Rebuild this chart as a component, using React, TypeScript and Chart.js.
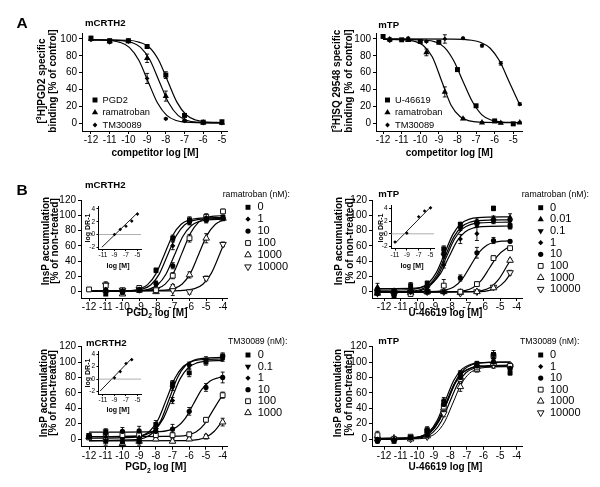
import React, { useEffect, useRef } from 'react';
import { Chart, registerables } from 'chart.js';
import { drawPoint } from 'chart.js/helpers';

Chart.register(...registerables);

const FONT = '"Liberation Sans", Arial, Helvetica, sans-serif';

// ---------------- Panel A : radioligand binding ----------------
const bindTicksX = [-12, -11, -10, -9, -8, -7, -6, -5];
const bindTicksY = [0, 20, 40, 60, 80, 100];

// mCRTH2 binding
const crthX = [-12, -11, -10, -9, -8, -7, -6, -5];
const crthPGD2 = [101, 98, 98, 91, 57, 9, 1, 1.5];
const crthPGD2Err = [2, 1.5, 1.5, 2, 4, 1.5, 1, 1.5];
const crthRama = [100, 97, 97, 77, 32, 3, 0.5, 0];
const crthRamaErr = [1.5, 1, 1, 5, 6, 1, 1, 1];
const crthTM = [99, 96, 97, 53, 5, 2.5, 0, 0];
const crthTMErr = [1, 1, 1, 6, 1, 1, 1, 1];
const crthPGD2Fit = [[-12, 99], [-10, 98.5], [-9.4, 96], [-8.9, 90.5], [-8.4, 75.5], [-7.9, 50], [-7.4, 24.5], [-6.9, 9.5], [-6.4, 3.5], [-5.9, 1.5], [-5, 0.6]];
const crthRamaFit = [[-12, 99], [-10.35, 98], [-9.85, 96], [-9.35, 90], [-8.85, 75], [-8.35, 49.5], [-7.85, 24], [-7.35, 9], [-6.85, 3], [-6.35, 1], [-5, 0]];
const crthTMFit = [[-12, 99], [-10.95, 98], [-10.45, 96], [-9.95, 90], [-9.45, 75], [-8.95, 49.5], [-8.45, 24], [-7.95, 9], [-7.45, 3], [-6.95, 1], [-5, 0]];

// mTP binding
const tpUX = [-12, -11, -10, -9, -8, -7, -6, -5];
const tpU = [103, 99, 97, 96, 63.5, 20.5, 2.5, -1];
const tpUErr = [1.5, 1, 1, 1.5, 2, 1.5, 1, 1];
const tpAntX = [-11.64, -10.65, -9.67, -8.68, -7.7, -6.68, -5.67, -4.65];
const tpRama = [99.5, 98.5, 84, 37, 5, 0.5, 0, 0.5];
const tpRamaErr = [2, 1, 4, 6, 1, 1, 1, 1];
const tpTM = [98, 101, 97, 100, 101, 92, 71, 22.5];
const tpTMErr = [1, 1, 1, 5, 1, 1.5, 2, 1.5];
const tpUFit = [[-12, 99.5], [-9.7, 98.5], [-9.2, 96.5], [-8.7, 90], [-8.2, 74], [-7.7, 49.5], [-7.2, 25.5], [-6.7, 10], [-6.2, 3.5], [-5.7, 1.5], [-4.7, 0.5]];
const tpRamaFit = [[-12, 99.5], [-10.85, 99], [-10.35, 97.5], [-9.85, 92.5], [-9.35, 78.5], [-8.85, 50], [-8.35, 21.5], [-7.85, 7.5], [-7.35, 2.5], [-6.85, 1], [-4.65, 0.3]];
const tpTMFit = [[-12, 100], [-8.24, 99.8], [-7.24, 98.5], [-6.74, 95.8], [-6.24, 89], [-5.74, 74], [-5.24, 50], [-4.74, 26], [-4.65, 22.5]];

// ---------------- Panel B : InsP accumulation ----------------
const insTicksY = [0, 20, 40, 60, 80, 100, 120];
const insTicksX = [-12, -11, -10, -9, -8, -7, -6, -5, -4];
const schildTicksX = [-11, -9, -7, -5];
const schildTicksY = [-2, 0, 2, 4];

// B1: mCRTH2, PGD2 + ramatroban
const b1X = [-12, -11, -10, -9, -8, -7, -6, -5, -4];
const b1R0 = [null, -3, 0, 2, 28, 70, 94, 95, 97];
const b1R0Err = [0, 2, 2, 2, 3, 4, 4, 4, 3];
const b1R1 = [null, 3, 2, 3, 9, 60, 92, 97, 97];
const b1R1Err = [0, 2, 2, 2, 2, 5, 4, 4, 3];
const b1R10 = [null, 2, -1, 3, 11, 34, 91.5, 94, 96];
const b1R10Err = [0, 2, 2, 2, 3, 4, 4, 4, 3];
const b1R100 = [3, 8, 2, 5, 2, 21, 70, 98, 105];
const b1R100Err = [1, 3, 2, 2, 2, 4, 5, 4, 3];
const b1R1000 = [null, 2, -3, 2, 0, 6.5, 22, 70, 96];
const b1R1000Err = [0, 2, 2, 2, 2, 3, 4, 6, 3];
const b1R10000 = [null, 9, 2, 3, 2, 2, 0, 17.5, 62];
const b1R10000Err = [0, 4, 2, 2, 2, 7, 3, 3, 3];
const b1Fit0 = [[-12, 0.5], [-9.5, 1.5], [-9, 3.5], [-8.5, 9.3], [-8, 23.7], [-7.5, 48.8], [-7, 73.8], [-6.5, 88.3], [-6, 94], [-5.5, 96], [-4, 97]];
const b1Fit1 = [[-12, 0.5], [-9.3, 1.4], [-8.8, 3.5], [-8.3, 9.2], [-7.8, 23.4], [-7.3, 48.3], [-6.8, 73], [-6.3, 87.3], [-5.8, 93], [-5.3, 95], [-4, 96]];
const b1Fit10 = [[-12, 0.5], [-8.9, 1.4], [-8.4, 3.4], [-7.9, 9.1], [-7.4, 23.2], [-6.9, 47.8], [-6.4, 72.3], [-5.9, 86.4], [-5.4, 92], [-4.9, 94], [-4, 95]];
const b1Fit100 = [[-12, 1], [-8.45, 2], [-7.95, 4.1], [-7.45, 10], [-6.95, 24.8], [-6.45, 50.5], [-5.95, 76.2], [-5.45, 91], [-4.95, 97], [-4.45, 99], [-4, 99.5]];
const b1Fit1000 = [[-12, 1], [-7.45, 2], [-6.95, 4], [-6.45, 9.7], [-5.95, 24], [-5.45, 49], [-4.95, 74], [-4.45, 88.3], [-4, 93.7]];
const b1Fit10000 = [[-12, 1], [-7, 1.2], [-6.2, 2], [-5.7, 4], [-5.2, 9.7], [-4.7, 24], [-4.2, 49], [-4, 59.8]];
const b1SchildX = [-9, -8, -7, -6, -5];
const b1SchildY = [0, 0.8, 1.3, 2.1, 3.2];
const b1SchildFit = [[-11.2, -2], [-5, 3.4]];

// B2: mTP, U-46619 + ramatroban
const b2X = [-12.4, -11.4, -10.4, -9.4, -8.4, -7.4, -6.4, -5.4, -4.4];
const b2R0 = [2, -6, 8, 11, 56, 88, 90, 109, 86];
const b2R0Err = [3, 2, 4, 3, 4, 3, 3, 3, 3];
const b2R001 = [6, 0, 2, 8, 52, 86, 92, 96, 97];
const b2R001Err = [5, 2, 2, 2, 3, 3, 3, 3, 5];
const b2R01 = [-3, 1, 0, 5, 47, 83, 88, 93, 92];
const b2R01Err = [2, 2, 2, 2, 3, 3, 3, 3, 3];
const b2R1 = [0, 2, 4, 3, 35, 69, 76, 92, 85];
const b2R1Err = [2, 2, 2, 2, 4, 6, 9, 3, 3];
const b2R10 = [-2, -1, 0, 0, 0, 18, 51, 67, 66];
const b2R10Err = [2, 2, 2, 2, 2, 4, 7, 4, 2];
const b2R100 = [0, -2, -3, 0, 8, 0, 10, 44, 57];
const b2R100Err = [2, 2, 2, 2, 8, 2, 3, 3, 2];
const b2R1000 = [-2, 0, -1, 0, 0, -1, 0, 5, 41];
const b2R1000Err = [2, 2, 2, 2, 2, 2, 2, 2, 2];
const b2R10000 = [0, -1, 0, 0, 0, -2, 0, 6, 25];
const b2R10000Err = [2, 2, 2, 2, 2, 2, 2, 2, 3];
const b2Fit0 = [[-12.4, 2], [-10.35, 2.95], [-9.85, 5], [-9.35, 10.7], [-8.85, 25], [-8.35, 50], [-7.85, 75], [-7.35, 89.3], [-6.85, 95], [-6.35, 97], [-4.4, 98]];
const b2Fit001 = [[-12.4, 0], [-10.3, 0.93], [-9.8, 2.9], [-9.3, 8.6], [-8.8, 22.6], [-8.3, 47], [-7.8, 71.4], [-7.3, 85.4], [-6.8, 91.1], [-6.3, 93.1], [-4.4, 94]];
const b2Fit01 = [[-12.4, -1], [-10.25, -0.1], [-9.75, 1.85], [-9.25, 7.4], [-8.75, 21.1], [-8.25, 45], [-7.75, 68.9], [-7.25, 82.6], [-6.75, 88.1], [-6.25, 90.1], [-4.4, 91]];
const b2Fit1 = [[-12.4, 4], [-10.1, 4.8], [-9.6, 6.5], [-9.1, 11.5], [-8.6, 23.7], [-8.1, 45], [-7.6, 66.3], [-7.1, 78.5], [-6.6, 83.5], [-6.1, 85.2], [-4.4, 86]];
const b2Fit10 = [[-12.4, 0], [-8.8, 0.66], [-8.3, 2.1], [-7.8, 6.1], [-7.3, 16.1], [-6.8, 33.5], [-6.3, 50.9], [-5.8, 60.9], [-5.3, 64.9], [-4.8, 66.3], [-4.4, 66.8]];
const b2Fit100 = [[-12.4, -0.5], [-7.65, 0.1], [-7.15, 1.4], [-6.65, 5.2], [-6.15, 14.5], [-5.65, 30.75], [-5.15, 47], [-4.65, 56.3], [-4.4, 58.7]];
const b2Fit1000 = [[-12.4, -0.5], [-6.6, 0.17], [-6.1, 1.6], [-5.6, 5.6], [-5.1, 15.7], [-4.6, 33.25], [-4.4, 40.9]];
const b2Fit10000 = [[-12.4, -0.5], [-6.2, 0.1], [-5.7, 1.4], [-5.2, 5.0], [-4.7, 14.0], [-4.4, 22.9]];
const b2SchildX = [-11, -9, -7, -6, -5];
const b2SchildY = [-1.3, 0.1, 2.7, 3.6, 4.1];
const b2SchildFit = [[-11, -1.5], [-5, 4.2]];

// B3: mCRTH2, PGD2 + TM30089
const b3X = [-12, -11, -10, -9, -8, -7, -6, -5, -4];
const b3T0 = [3, -3, -4, -3, 19, 72, 86, 100, 108];
const b3T0Err = [2, 5, 6, 5, 5, 4, 5, 4, 4];
const b3T01 = [5, 10, 0, 0, 12, 67, 95, 103, 106];
const b3T01Err = [2, 3, 3, 3, 3, 4, 4, 4, 3];
const b3T1 = [2, 3, -2, 2, 10, 50, 97, 101, 104];
const b3T1Err = [1, 2, 2, 2, 3, 4, 3, 3, 3];
const b3T10 = [4, 8, 10, 10.5, 10, 13, 36, 67, 80];
const b3T10Err = [2, 5, 5, 6, 6, 6, 5, 5, 7];
const b3T100 = [2, 5, 5, 5, 5, 5, 6, 25, 57];
const b3T100Err = [2, 3, 4, 4, 4, 4, 3, 3, 4];
const b3T1000 = [3, 0, -6, -3, 0, -3, 0, 3, 22];
const b3T1000Err = [1, 2, 3, 3, 2, 2, 2, 3, 5];
const b3Fit0 = [[-12, 1], [-9.35, 2], [-8.85, 4.2], [-8.35, 10.4], [-7.85, 25.7], [-7.35, 52.5], [-6.85, 79.3], [-6.35, 94.6], [-5.85, 100.8], [-5.35, 103], [-4, 104]];
const b3Fit01 = [[-12, -2], [-9.2, -0.9], [-8.7, 1.35], [-8.2, 7.8], [-7.7, 23.9], [-7.2, 52], [-6.7, 80.1], [-6.2, 96.2], [-5.7, 102.6], [-5.2, 104.9], [-4, 106]];
const b3Fit1 = [[-12, 3], [-9.05, 4], [-8.55, 6.1], [-8.05, 12], [-7.55, 26.8], [-7.05, 52.5], [-6.55, 78.2], [-6.05, 93], [-5.55, 98.9], [-5.05, 101], [-4, 102]];
const b3Fit10 = [[-12, 9], [-7.75, 9.7], [-7.25, 11.3], [-6.75, 15.6], [-6.25, 26.5], [-5.75, 45.5], [-5.25, 64.5], [-4.75, 75.4], [-4.25, 79.7], [-4, 80.8]];
const b3Fit100 = [[-12, 3], [-6.6, 3.7], [-6.1, 5.1], [-5.6, 9.1], [-5.1, 19.1], [-4.6, 36.5], [-4.1, 53.9], [-4, 56.5]];
const b3Fit1000 = [[-12, -2.5], [-6, -2], [-5.5, -0.9], [-5, 2.3], [-4.5, 10.1], [-4, 23.75]];
const b3SchildX = [-9, -8, -7, -6];
const b3SchildY = [0.2, 1.2, 2.5, 3.1];
const b3SchildFit = [[-11.5, -1.9], [-6, 3.3]];

// B4: mTP, U-46619 + TM30089
const b4X = [-12.4, -11.4, -10.4, -9.4, -8.4, -7.4, -6.4, -5.4, -4.4];
const b4T0 = [-2, -3, 2, 12, 48, 85, 98, 110, 86];
const b4T0Err = [3, 2, 2, 4, 4, 4, 3, 5, 3];
const b4T1 = [0, 0, 1, 8, 50, 82, 96, 105, 90];
const b4T1Err = [2, 2, 2, 3, 4, 4, 3, 4, 3];
const b4T10 = [-3, -1, 2, 5, 45, 80, 95, 100, 92];
const b4T10Err = [2, 2, 2, 2, 4, 4, 3, 4, 3];
const b4T100 = [5, 0, 3, 10, 42, 78, 93, 108, 95];
const b4T100Err = [5, 2, 2, 3, 4, 4, 3, 4, 3];
const b4T1000 = [0, 1, 0, 4, 40, 68, 90, 98, 96];
const b4T1000Err = [2, 2, 2, 2, 4, 6, 3, 4, 3];
const b4T10000 = [0, -1, 0, 3, 33, 76, 92, 96, 94];
const b4T10000Err = [2, 2, 2, 2, 4, 4, 3, 4, 3];
const b4Fit0 = [[-12.4, 0], [-10.3, 1], [-9.8, 3.1], [-9.3, 9.1], [-8.8, 24], [-8.3, 50], [-7.8, 76], [-7.3, 90.9], [-6.8, 96.9], [-6.3, 99], [-4.4, 100]];
const b4Fit1 = [[-12.4, 0.5], [-10.25, 1.4], [-9.75, 3.4], [-9.25, 9.1], [-8.75, 23.2], [-8.25, 47.75], [-7.75, 72.3], [-7.25, 86.4], [-6.75, 92.1], [-6.25, 94.1], [-4.4, 95]];
const b4Fit10 = [[-12.4, 0], [-10.2, 0.95], [-9.7, 3], [-9.2, 8.7], [-8.7, 23], [-8.2, 48], [-7.7, 73], [-7.2, 87.3], [-6.7, 93], [-6.2, 95], [-4.4, 96]];
const b4Fit100 = [[-12.4, 1], [-10.15, 2], [-9.65, 4.1], [-9.15, 10], [-8.65, 24.8], [-8.15, 50.5], [-7.65, 76.2], [-7.15, 91], [-6.65, 96.9], [-6.15, 99], [-4.4, 100]];
const b4Fit1000 = [[-12.4, 0], [-10.05, 0.94], [-9.55, 2.9], [-9.05, 8.6], [-8.55, 22.8], [-8.05, 47.5], [-7.55, 72.2], [-7.05, 86.4], [-6.55, 92], [-6.05, 94], [-4.4, 95]];
const b4Fit10000 = [[-12.4, -0.5], [-9.85, 0.4], [-9.35, 2.4], [-8.85, 8.1], [-8.35, 22.2], [-7.85, 46.75], [-7.35, 71.3], [-6.85, 85.4], [-6.35, 91.1], [-5.85, 93.1], [-4.4, 94]];

// legend labels
const ramaCrthLabels = ['0', '1', '10', '100', '1000', '10000'];
const ramaTpLabels = ['0', '0.01', '0.1', '1', '10', '100', '1000', '10000'];
const tmCrthLabels = ['0', '0.1', '1', '10', '100', '1000'];
const tmTpLabels = ['0', '1', '10', '100', '1000', '10000'];

// ---------------- helpers ----------------
type Mk = { style: string; r: number; fill: boolean; rot?: number };
const MK: Record<string, Mk> = {
  sq: { style: 'rect', r: 3.5, fill: true },
  tri: { style: 'triangle', r: 3.6, fill: true },
  dia: { style: 'rectRot', r: 2.6, fill: true },
  circ: { style: 'circle', r: 2.6, fill: true },
  inv: { style: 'triangle', r: 3.6, fill: true, rot: 180 },
  osq: { style: 'rect', r: 3.4, fill: false },
  otri: { style: 'triangle', r: 3.8, fill: false },
  oinv: { style: 'triangle', r: 3.8, fill: false, rot: 180 },
  dot: { style: 'rectRot', r: 1.8, fill: true },
};

function series(xs: number[], ys: (number | null)[], errs: number[] | null, mk: Mk) {
  const data: any[] = [];
  const err: number[] = [];
  xs.forEach((x, i) => {
    const y = ys[i];
    if (y !== null && y !== undefined) {
      data.push({ x, y });
      err.push(errs ? errs[i] : 0);
    }
  });
  return {
    type: 'scatter', data, err,
    pointStyle: mk.style, rotation: mk.rot || 0, pointRadius: mk.r, pointHoverRadius: mk.r,
    backgroundColor: mk.fill ? '#000' : '#fff', borderColor: '#111', borderWidth: mk.fill ? 0 : 1,
    showLine: false, order: 0,
  };
}

function curve(pairs: number[][], width = 1.2, color = '#000') {
  return {
    type: 'line', data: pairs.map(([x, y]) => ({ x, y })),
    borderColor: color, borderWidth: width, pointRadius: 0, pointHoverRadius: 0,
    showLine: true, fill: false, cubicInterpolationMode: 'monotone', order: 2,
  };
}

type Seg = { t: string; s?: 'sup' | 'sub' };
type Txt = { x: number; y: number; text: string | Seg[]; size: number; bold?: boolean; align?: 'left' | 'center' | 'right'; rot?: number };

function drawText(ctx: CanvasRenderingContext2D, t: Txt, ox: number, oy: number) {
  const segs: Seg[] = typeof t.text === 'string' ? [{ t: t.text }] : t.text;
  ctx.save();
  ctx.translate(t.x - ox, t.y - oy);
  if (t.rot) ctx.rotate((t.rot * Math.PI) / 180);
  const fontFor = (s: Seg) => `${t.bold ? 'bold ' : ''}${s.s ? t.size * 0.68 : t.size}px ${FONT}`;
  let total = 0;
  const widths = segs.map((s) => {
    ctx.font = fontFor(s);
    const w = ctx.measureText(s.t).width;
    total += w;
    return w;
  });
  let x = t.align === 'center' ? -total / 2 : t.align === 'right' ? -total : 0;
  ctx.textBaseline = 'middle';
  ctx.textAlign = 'left';
  ctx.fillStyle = '#000';
  segs.forEach((s, i) => {
    ctx.font = fontFor(s);
    const dy = s.s === 'sup' ? -t.size * 0.32 : s.s === 'sub' ? t.size * 0.3 : 0;
    ctx.fillText(s.t, x, dy);
    x += widths[i];
  });
  ctx.restore();
}

type Leg = { labels: string[]; mks: Mk[]; mx: number; tx: number; y0: number; dy: number; size: number };

type Spec = {
  box: number[]; area: number[]; xr: number[]; yr: number[];
  xTicks: number[]; yTicks: number[];
  tickFont: number; tickLen: number; xPad: number; yPad: number;
  datasets: any[]; texts: Txt[]; legend?: Leg; capW?: number;
};

function makeDecor(spec: Spec) {
  const ox = spec.box[0];
  const oy = spec.box[1];
  return {
    id: 'decor',
    beforeDatasetsDraw(chart: any) {
      const ctx = chart.ctx;
      const ys = chart.scales.y;
      const cap = spec.capW ?? 2;
      ctx.save();
      ctx.strokeStyle = '#000';
      ctx.lineWidth = 0.9;
      chart.data.datasets.forEach((ds: any, i: number) => {
        if (!ds.err) return;
        const meta = chart.getDatasetMeta(i);
        meta.data.forEach((el: any, j: number) => {
          const e = ds.err[j];
          if (!e) return;
          const raw = ds.data[j];
          const yt = ys.getPixelForValue(raw.y + e);
          const yb = ys.getPixelForValue(raw.y - e);
          ctx.beginPath();
          ctx.moveTo(el.x, yt); ctx.lineTo(el.x, yb);
          ctx.moveTo(el.x - cap, yt); ctx.lineTo(el.x + cap, yt);
          ctx.moveTo(el.x - cap, yb); ctx.lineTo(el.x + cap, yb);
          ctx.stroke();
        });
      });
      ctx.restore();
    },
    afterDraw(chart: any) {
      const ctx = chart.ctx;
      spec.texts.forEach((t) => drawText(ctx, t, ox, oy));
      const lg = spec.legend;
      if (lg) {
        lg.labels.forEach((lab, i) => {
          const y = lg.y0 + i * lg.dy - oy;
          const mk = lg.mks[i];
          ctx.save();
          ctx.fillStyle = mk.fill ? '#000' : '#fff';
          ctx.strokeStyle = '#111';
          ctx.lineWidth = 1;
          drawPoint(ctx, { pointStyle: mk.style, rotation: mk.rot || 0, radius: mk.r, borderWidth: mk.fill ? 0 : 1 } as any, lg.mx - ox, y);
          ctx.restore();
          drawText(ctx, { x: lg.tx, y: lg.y0 + i * lg.dy, text: lab, size: lg.size, align: 'left' }, ox, oy);
        });
      }
    },
  };
}

function axisOpts(min: number, max: number, ticks: number[], spec: Spec, pad: number) {
  return {
    type: 'linear', min, max,
    afterBuildTicks: (s: any) => { s.ticks = ticks.map((v) => ({ value: v })); },
    ticks: { font: { family: FONT, size: spec.tickFont }, color: '#000', padding: pad, autoSkip: false, maxRotation: 0, minRotation: 0, callback: (v: any) => String(v) },
    grid: { display: true, drawOnChartArea: false, drawTicks: true, tickLength: spec.tickLen, tickWidth: 1, tickColor: '#000', color: '#000' },
    border: { display: true, color: '#000', width: 1 },
  };
}

function Panel({ spec }: { spec: Spec }) {
  const ref = useRef<HTMLCanvasElement | null>(null);
  useEffect(() => {
    const [l, t, w, h] = spec.box;
    const [x0, y0, x1, y1] = spec.area;
    const chart = new Chart(ref.current as HTMLCanvasElement, {
      type: 'scatter',
      data: { datasets: spec.datasets },
      options: {
        responsive: false,
        animation: false,
        events: [],
        layout: { padding: { left: 0, top: y0 - t, right: l + w - x1, bottom: 0 } },
        plugins: { legend: { display: false }, tooltip: { enabled: false } },
        scales: {
          x: { ...axisOpts(spec.xr[0], spec.xr[1], spec.xTicks, spec, spec.xPad), afterFit: (s: any) => { s.height = t + h - y1; } },
          y: { ...axisOpts(spec.yr[0], spec.yr[1], spec.yTicks, spec, spec.yPad), afterFit: (s: any) => { s.width = x0 - l; } },
        },
      } as any,
      plugins: [makeDecor(spec)],
    } as any);
    return () => chart.destroy();
  }, [spec]);
  return (
    <canvas
      ref={ref}
      width={spec.box[2]}
      height={spec.box[3]}
      style={{ position: 'absolute', left: spec.box[0], top: spec.box[1], width: spec.box[2], height: spec.box[3] }}
    />
  );
}

// ---------------- panel specs ----------------
const ytA = (x: number, y: number, text: string | Seg[]): Txt => ({ x, y, text, size: 10, bold: true, align: 'center', rot: -90 });
const xt = (x: number, y: number, text: string | Seg[]): Txt => ({ x, y, text, size: 10, bold: true, align: 'center' });
const ttl = (x: number, y: number, text: string): Txt => ({ x, y, text, size: 9.6, bold: true, align: 'left' });

const mainCommon = { tickFont: 10, tickLen: 3, xPad: 0.5, yPad: 2 };

const specALeft: Spec = {
  ...mainCommon,
  box: [0, 0, 300, 170], area: [82, 33, 227, 131], xr: [-12.48, -4.73], yr: [-9.52, 107.1],
  xTicks: bindTicksX, yTicks: bindTicksY,
  datasets: [
    curve(crthPGD2Fit), curve(crthRamaFit), curve(crthTMFit),
    series(crthX, crthPGD2, crthPGD2Err, MK.sq),
    series(crthX, crthRama, crthRamaErr, MK.tri),
    series(crthX, crthTM, crthTMErr, { ...MK.dia, r: 2.4 }),
  ],
  texts: [
    { x: 16.5, y: 24, text: 'A', size: 15.5, bold: true, align: 'left' },
    ttl(85, 23.3, 'mCRTH2'),
    ytA(42, 81, [{ t: '[' }, { t: '3', s: 'sup' }, { t: 'H]PGD2 specific' }]),
    ytA(53.5, 81, 'binding [% of control]'),
    xt(155, 153, 'competitor log [M]'),
  ],
  legend: { labels: ['PGD2', 'ramatroban', 'TM30089'], mks: [MK.sq, MK.tri, { ...MK.dia, r: 2.4 }], mx: 95, tx: 102.5, y0: 100, dy: 12.5, size: 9.3 },
};

const specARight: Spec = {
  ...mainCommon,
  box: [300, 0, 300, 170], area: [376, 33, 522, 131], xr: [-12.38, -4.53], yr: [-9.52, 107.1],
  xTicks: bindTicksX, yTicks: bindTicksY,
  datasets: [
    curve(tpUFit), curve(tpRamaFit), curve(tpTMFit),
    series(tpUX, tpU, tpUErr, MK.sq),
    series(tpAntX, tpRama, tpRamaErr, MK.tri),
    series(tpAntX, tpTM, tpTMErr, { ...MK.dia, r: 2.4 }),
  ],
  texts: [
    ttl(378.3, 25, 'mTP'),
    ytA(337.3, 81, [{ t: '[' }, { t: '3', s: 'sup' }, { t: 'H]SQ 29548 specific' }]),
    ytA(349.3, 81, 'binding [% of control]'),
    xt(449.3, 153, 'competitor log [M]'),
  ],
  legend: { labels: ['U-46619', 'ramatroban', 'TM30089'], mks: [MK.sq, MK.tri, { ...MK.dia, r: 2.4 }], mx: 387.5, tx: 395, y0: 100, dy: 12.5, size: 9.3 },
};

const specB1: Spec = {
  ...mainCommon,
  box: [0, 170, 300, 160], area: [81, 200, 227, 298], xr: [-12.48, -3.76], yr: [-8.2, 120],
  xTicks: insTicksX, yTicks: insTicksY,
  datasets: [
    curve(b1Fit0), curve(b1Fit1), curve(b1Fit10), curve(b1Fit100), curve(b1Fit1000), curve(b1Fit10000),
    series(b1X, b1R0, b1R0Err, MK.sq),
    series(b1X, b1R1, b1R1Err, MK.dia),
    series(b1X, b1R10, b1R10Err, MK.circ),
    series(b1X, b1R100, b1R100Err, MK.osq),
    series(b1X, b1R1000, b1R1000Err, MK.otri),
    series(b1X, b1R10000, b1R10000Err, MK.oinv),
  ],
  texts: [
    { x: 16.5, y: 190.5, text: 'B', size: 15.5, bold: true, align: 'left' },
    ttl(85, 185.7, 'mCRTH2'),
    ytA(46.3, 241, 'InsP accumulation'),
    ytA(55, 241, '[% of non-treated]'),
    xt(157, 313, [{ t: 'PGD' }, { t: '2', s: 'sub' }, { t: ' log [M]' }]),
    { x: 222.7, y: 195, text: 'ramatroban (nM):', size: 8.7, align: 'left' },
  ],
  legend: { labels: ramaCrthLabels, mks: [MK.sq, MK.dia, MK.circ, MK.osq, MK.otri, MK.oinv], mx: 248, tx: 257.5, y0: 207.3, dy: 11.9, size: 11 },
};

const specB2: Spec = {
  ...mainCommon,
  box: [300, 170, 300, 160], area: [372, 200, 522, 298], xr: [-12.73, -3.68], yr: [-8.2, 120],
  xTicks: insTicksX, yTicks: insTicksY,
  datasets: [
    curve(b2Fit0), curve(b2Fit001), curve(b2Fit01), curve(b2Fit1), curve(b2Fit10), curve(b2Fit100), curve(b2Fit1000), curve(b2Fit10000),
    series(b2X, b2R0, b2R0Err, MK.sq),
    series(b2X, b2R001, b2R001Err, MK.tri),
    series(b2X, b2R01, b2R01Err, MK.inv),
    series(b2X, b2R1, b2R1Err, MK.dia),
    series(b2X, b2R10, b2R10Err, MK.circ),
    series(b2X, b2R100, b2R100Err, MK.osq),
    series(b2X, b2R1000, b2R1000Err, MK.otri),
    series(b2X, b2R10000, b2R10000Err, MK.oinv),
  ],
  texts: [
    ttl(378.3, 194, 'mTP'),
    ytA(339, 241, 'InsP accumulation'),
    ytA(350, 241, '[% of non-treated]'),
    xt(445.5, 313.3, 'U-46619 log [M]'),
    { x: 521.7, y: 195, text: 'ramatroban (nM):', size: 8.7, align: 'left' },
  ],
  legend: { labels: ramaTpLabels, mks: [MK.sq, MK.tri, MK.inv, MK.dia, MK.circ, MK.osq, MK.otri, MK.oinv], mx: 540.7, tx: 550, y0: 207.7, dy: 11.65, size: 11 },
};

const specB3: Spec = {
  ...mainCommon,
  box: [0, 330, 300, 157], area: [81, 346.7, 227, 446.7], xr: [-12.48, -3.74], yr: [-10, 120],
  xTicks: insTicksX, yTicks: insTicksY,
  datasets: [
    curve(b3Fit0), curve(b3Fit01), curve(b3Fit1), curve(b3Fit10), curve(b3Fit100), curve(b3Fit1000),
    series(b3X, b3T0, b3T0Err, MK.sq),
    series(b3X, b3T01, b3T01Err, MK.inv),
    series(b3X, b3T1, b3T1Err, MK.dia),
    series(b3X, b3T10, b3T10Err, MK.circ),
    series(b3X, b3T100, b3T100Err, MK.osq),
    series(b3X, b3T1000, b3T1000Err, MK.otri),
  ],
  texts: [
    ttl(86, 343.3, 'mCRTH2'),
    ytA(44.5, 393, 'InsP accumulation'),
    ytA(53.5, 393, '[% of non-treated]'),
    xt(155.8, 467.7, [{ t: 'PGD' }, { t: '2', s: 'sub' }, { t: ' log [M]' }]),
    { x: 228, y: 341.7, text: 'TM30089 (nM):', size: 8.7, align: 'left' },
  ],
  legend: { labels: tmCrthLabels, mks: [MK.sq, MK.inv, MK.dia, MK.circ, MK.osq, MK.otri], mx: 248, tx: 257.7, y0: 355, dy: 11.55, size: 11 },
};

const specB4: Spec = {
  ...mainCommon,
  box: [300, 330, 300, 157], area: [372, 346.7, 522, 446.7], xr: [-12.73, -3.68], yr: [-10, 120],
  xTicks: insTicksX, yTicks: insTicksY,
  datasets: [
    curve(b4Fit0), curve(b4Fit1), curve(b4Fit10), curve(b4Fit100), curve(b4Fit1000), curve(b4Fit10000, 1),
    series(b4X, b4T0, b4T0Err, MK.sq),
    series(b4X, b4T1, b4T1Err, MK.dia),
    series(b4X, b4T10, b4T10Err, MK.circ),
    series(b4X, b4T100, b4T100Err, MK.osq),
    series(b4X, b4T1000, b4T1000Err, MK.otri),
    series(b4X, b4T10000, b4T10000Err, MK.oinv),
  ],
  texts: [
    ttl(378.3, 341.7, 'mTP'),
    ytA(338.5, 393, 'InsP accumulation'),
    ytA(349.3, 393, '[% of non-treated]'),
    xt(445.5, 467.5, 'U-46619 log [M]'),
    { x: 520, y: 341.7, text: 'TM30089 (nM):', size: 8.7, align: 'left' },
  ],
  legend: { labels: tmTpLabels, mks: [MK.sq, MK.dia, MK.circ, MK.osq, MK.otri, MK.oinv], mx: 540.7, tx: 550, y0: 355, dy: 11.55, size: 11 },
};

const insetCommon = { tickFont: 6.5, tickLen: 2, xPad: 0.5, yPad: 1.5, capW: 1.5 };
const insetTxt = (x: number, y: number, text: string, rot?: number): Txt => ({ x, y, text, size: 7, bold: true, align: 'center', rot });

function inset(box: number[], area: number[], xr: number[], yr: number[], xs: number[], ys: number[], fit: number[][], yl: number[], xl: number[]): Spec {
  return {
    ...insetCommon,
    box, area, xr, yr, xTicks: schildTicksX, yTicks: schildTicksY,
    datasets: [
      curve([[xr[0], 0], [xr[1], 0]], 0.8, '#9a9a9a'),
      curve(fit, 0.9),
      series(xs, ys, null, MK.dot),
    ],
    texts: [insetTxt(yl[0], yl[1], 'log DR-1', -90), insetTxt(xl[0], xl[1], 'log [M]')],
  };
}

const specB1in = inset([66, 198, 84, 76], [98.5, 206, 141, 249], [-11.78, -4.39], [-2.27, 4.47], b1SchildX, b1SchildY, b1SchildFit, [88.5, 228], [118, 266]);
const specB2in = inset([358, 198, 84, 76], [391, 205.5, 434, 248.5], [-11.68, -4.41], [-2.32, 4.47], b2SchildX, b2SchildY, b2SchildFit, [381, 228], [412, 266.5]);
const specB3in = inset([66, 343, 84, 76], [98.5, 351, 141, 394], [-11.78, -4.39], [-2.37, 4.48], b3SchildX, b3SchildY, b3SchildFit, [88.5, 373], [118, 410]);

const SPECS = [specALeft, specARight, specB1, specB2, specB3, specB4, specB1in, specB2in, specB3in];

export default function App() {
  return (
    <div style={{ position: 'absolute', left: 0, top: 0, width: 600, height: 487, background: '#fff', overflow: 'hidden' }}>
      {SPECS.map((s, i) => (
        <Panel key={i} spec={s} />
      ))}
    </div>
  );
}
